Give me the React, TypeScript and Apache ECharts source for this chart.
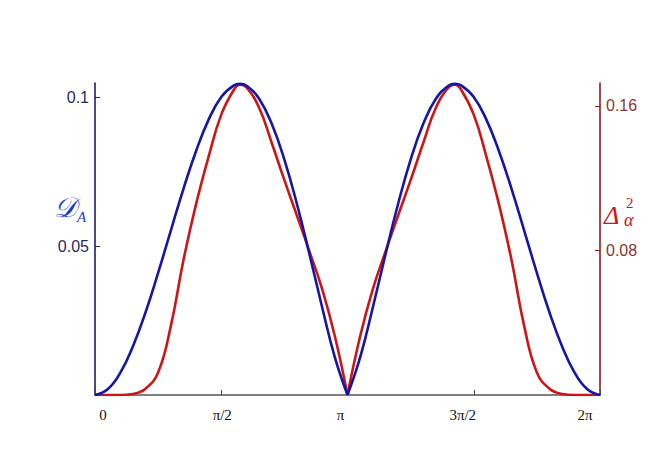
import React, { useEffect, useRef } from "react";
import * as echarts from "echarts";

// ---- data (x in radians, about every π/20, plus the peak) ----
const xLeft = [0, 0.1571, 0.3142, 0.4712, 0.6283, 0.7854, 0.9425, 1.0996, 1.2566, 1.4137, 1.5708, 1.7279, 1.804, 1.885, 2.042, 2.1991, 2.3562, 2.5133, 2.6704, 2.8274, 2.9845, 3.1416];
const xRight = [3.1416, 3.2987, 3.4558, 3.6128, 3.7699, 3.927, 4.0841, 4.2412, 4.3982, 4.4792, 4.5553, 4.7124, 4.8695, 5.0265, 5.1836, 5.3407, 5.4978, 5.6549, 5.8119, 5.969, 6.1261, 6.2832];

const blueLeft = [0, 0.0019, 0.0074, 0.0163, 0.0277, 0.041, 0.0551, 0.0691, 0.0818, 0.0924, 0.1, 0.1039, 0.1044, 0.1038, 0.0994, 0.091, 0.079, 0.064, 0.047, 0.0293, 0.0126, 0];
const blueRight = [0, 0.0126, 0.0293, 0.047, 0.064, 0.079, 0.091, 0.0994, 0.1038, 0.1044, 0.1039, 0.1, 0.0924, 0.0818, 0.0691, 0.0551, 0.041, 0.0277, 0.0163, 0.0074, 0.0019, 0];

const redLeft = [0, 0, 0, 0.0006, 0.0035, 0.0125, 0.038, 0.0745, 0.1055, 0.132, 0.1552, 0.169, 0.1717, 0.1702, 0.159, 0.1395, 0.1189, 0.0992, 0.0792, 0.0585, 0.0325, 0];
const redRight = [0, 0.0325, 0.0585, 0.0792, 0.0992, 0.1189, 0.1395, 0.159, 0.1702, 0.1717, 0.169, 0.1552, 0.132, 0.1055, 0.0745, 0.038, 0.0125, 0.0035, 0.0006, 0, 0, 0];

const xTickLabels = ["0", "π/2", "π", "3π/2", "2π"];
const leftTicks = [0.05, 0.1];
const rightTicks = [0.08, 0.16];

const pairs = (xs: number[], ys: number[]) => xs.map((x, i) => [x, ys[i]]);

const BLUE = "#1616a6";
const RED = "#cc1616";

export default function App() {
  const ref = useRef<HTMLDivElement>(null);
  useEffect(() => {
    if (!ref.current) return;
    const chart = echarts.init(ref.current, undefined, { renderer: "svg" });
    const mk = (name: string, xs: number[], ys: number[], c: string, yi: number) => ({
      name,
      type: "line",
      yAxisIndex: yi,
      data: pairs(xs, ys),
      showSymbol: false,
      smooth: 0.45,
      lineStyle: { color: c, width: 2.6 },
      z: yi === 0 ? 3 : 2,
    });
    const xl = (pad: number[]) => ({ padding: pad, fontFamily: "Liberation Serif", fontSize: 15, color: "#111" });
    chart.setOption({
      animation: false,
      backgroundColor: "#ffffff",
      grid: { left: 95, right: 64, top: 83, bottom: 75, containLabel: false },
      xAxis: {
        type: "value",
        min: 0,
        max: Math.PI * 2,
        interval: Math.PI / 2,
        splitLine: { show: false },
        axisLine: { lineStyle: { color: "#555555", width: 1.5 } },
        axisTick: { inside: true, length: 5, lineStyle: { color: "#444444", width: 1 } },
        axisLabel: {
          margin: 12,
          color: "#111111",
          fontFamily: "Liberation Serif",
          fontSize: 15,
          formatter: (v: number) => {
            const i = Math.round(v / (Math.PI / 2));
            const t = xTickLabels[i] ?? "";
            return `{s${i}|${t}}`;
          },
          rich: {
            s0: xl([0, 0, 0, 16]),
            s1: xl([0, 0, 0, 2]),
            s2: xl([0, 14, 0, 0]),
            s3: xl([0, 22, 0, 0]),
            s4: xl([0, 30, 0, 0]),
          },
        },
      },
      yAxis: [
        {
          type: "value",
          position: "left",
          min: 0,
          max: 0.1047,
          interval: 0.05,
          splitLine: { show: false },
          axisLine: { show: true, lineStyle: { color: "#1c1c6a", width: 1.6 } },
          axisTick: { show: true, inside: true, length: 5, customValues: leftTicks, lineStyle: { color: "#1c1c6a" } },
          axisLabel: {
            customValues: leftTicks,
            margin: 6,
            color: "#2a2a60",
            fontFamily: "Liberation Sans",
            fontSize: 16,
            formatter: (v: number) => String(Math.round(v * 100) / 100),
          },
        },
        {
          type: "value",
          position: "right",
          min: 0,
          max: 0.1727,
          interval: 0.08,
          splitLine: { show: false },
          axisLine: { show: true, lineStyle: { color: "#8c1c1c", width: 1.6 } },
          axisTick: { show: true, inside: true, length: 5, customValues: rightTicks, lineStyle: { color: "#8c1c1c" } },
          axisLabel: {
            customValues: rightTicks,
            margin: 6,
            color: "#8a3434",
            fontFamily: "Liberation Sans",
            fontSize: 16,
            formatter: (v: number) => v.toFixed(2),
          },
        },
      ],
      series: [
        mk("redL", xLeft, redLeft, RED, 1),
        mk("redR", xRight, redRight, RED, 1),
        mk("blueL", xLeft, blueLeft, BLUE, 0),
        mk("blueR", xRight, blueRight, BLUE, 0),
      ],
      graphic: [
        { type: "text", left: 54, top: 193, style: { text: "𝒟", fontSize: 28, fontFamily: "DejaVu Serif, Noto Sans, serif", fontStyle: "italic", fill: "#1a3cd4" } },
        { type: "text", left: 77, top: 209, style: { text: "A", fontSize: 15, fontFamily: "Liberation Serif", fontStyle: "italic", fill: "#1a3cd4" } },
        { type: "text", left: 604, top: 202, style: { text: "Δ", fontSize: 26, fontFamily: "Liberation Serif", fontStyle: "italic", fill: "#d01515" } },
        { type: "text", left: 626, top: 195, style: { text: "2", fontSize: 15, fontFamily: "Liberation Serif", fill: "#d01515" } },
        { type: "text", left: 624, top: 211, style: { text: "α", fontSize: 18, fontFamily: "Liberation Serif", fontStyle: "italic", fill: "#d01515" } },
      ],
    });
    return () => chart.dispose();
  }, []);
  return <div ref={ref} style={{ position: "fixed", left: 0, top: 0, width: 664, height: 470 }} />;
}
